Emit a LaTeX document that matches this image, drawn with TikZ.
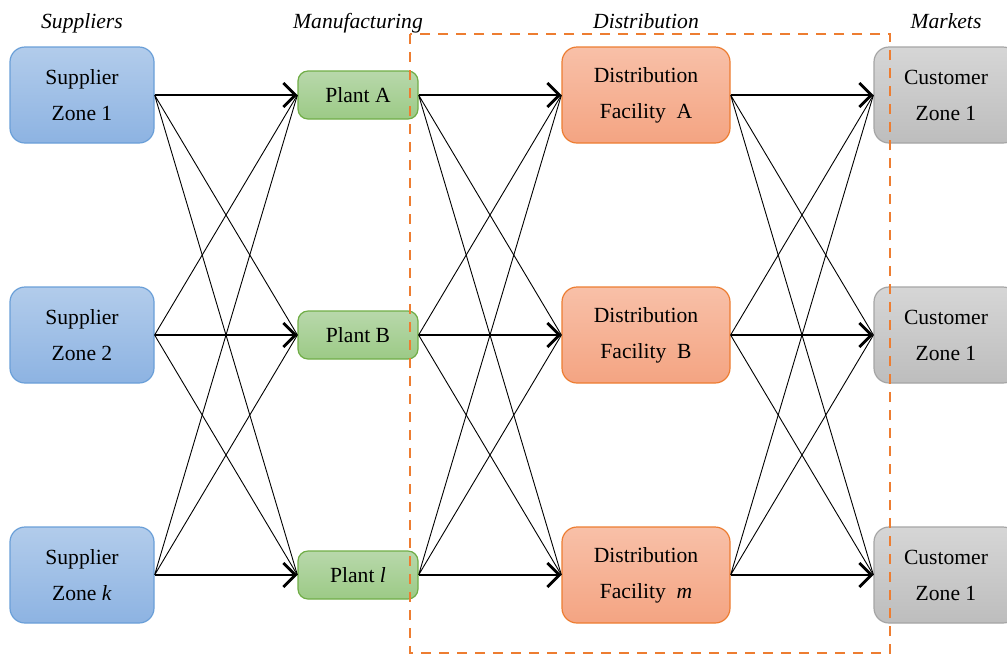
\documentclass[tikz,border=0pt]{standalone}
\usepackage{fontspec}
\setmainfont{Liberation Serif}
\usetikzlibrary{arrows.meta}

\definecolor{supTop}{HTML}{B2CCEB}
\definecolor{supBot}{HTML}{8DB3E2}
\definecolor{supLine}{HTML}{6A9FD8}
\definecolor{plantTop}{HTML}{B8D8AB}
\definecolor{plantBot}{HTML}{9CCA86}
\definecolor{plantLine}{HTML}{70AD47}
\definecolor{distTop}{HTML}{F8C0A8}
\definecolor{distBot}{HTML}{F4A482}
\definecolor{distLine}{HTML}{ED7D31}
\definecolor{custTop}{HTML}{D6D6D6}
\definecolor{custBot}{HTML}{BDBDBD}
\definecolor{custLine}{HTML}{A5A5A5}

\tikzset{
    box/.style={rounded corners=7.5pt, align=center, inner sep=0pt, line width=0.6pt,
        font=\fontsize{10.8}{18}\selectfont},
    supbox/.style={box, minimum width=72pt, minimum height=48pt,
        draw=supLine, top color=supTop, bottom color=supBot},
    plantbox/.style={box, rounded corners=5pt, minimum width=60pt, minimum height=24pt,
        draw=plantLine, top color=plantTop, bottom color=plantBot},
    distbox/.style={box, minimum width=84pt, minimum height=48pt,
        draw=distLine, top color=distTop, bottom color=distBot},
    custbox/.style={box, minimum width=72pt, minimum height=48pt,
        draw=custLine, top color=custTop, bottom color=custBot},
    stage/.style={anchor=base, font=\fontsize{10.8}{13}\selectfont\itshape},
    main/.style={line width=1.4pt, -{Straight Barb[length=6pt, width=12pt, line width=1.4pt]}},
    cross/.style={line width=0.45pt}
}

\begin{document}
\begin{tikzpicture}[x=0.5pt, y=-0.5pt]
        \clip ( 0, 0 ) rectangle ( 1007, 655 );

        % stage titles
        \node[stage] (tsup) at ( 82, 28 ) {Suppliers};
        \node[stage] (tman) at ( 358, 28 ) {Manufacturing};
        \node[stage] (tdis) at ( 646, 28 ) {Distribution};
        \node[stage] (tmar) at ( 946, 28 ) {Markets};

        % suppliers
        \node[supbox] (s1) at ( 82, 95 ) {Supplier\\Zone 1};
        \node[supbox] (s2) at ( 82, 335 ) {Supplier\\Zone 2};
        \node[supbox] (s3) at ( 82, 575 ) {Supplier\\Zone \textit{k}};

        % plants
        \node[plantbox] (p1) at ( 358, 95 ) {Plant A};
        \node[plantbox] (p2) at ( 358, 335 ) {Plant B};
        \node[plantbox] (p3) at ( 358, 575 ) {Plant \textit{l}};

        % distribution
        \node[distbox] (d1) at ( 646, 95 ) {Distribution\\Facility\ \ A};
        \node[distbox] (d2) at ( 646, 335 ) {Distribution\\Facility\ \ B};
        \node[distbox] (d3) at ( 646, 575 ) {Distribution\\Facility\ \ \textit{m}};

        % markets
        \node[custbox] (c1) at ( 946, 95 ) {Customer\\Zone 1};
        \node[custbox] (c2) at ( 946, 335 ) {Customer\\Zone 1};
        \node[custbox] (c3) at ( 946, 575 ) {Customer\\Zone 1};

        % suppliers - plants
        \draw[main] (s1.east) -- (p1.west);
        \draw[main] (s2.east) -- (p2.west);
        \draw[main] (s3.east) -- (p3.west);
        \draw[cross] (s1.east) -- (p2.west) (s1.east) -- (p3.west);
        \draw[cross] (s2.east) -- (p1.west) (s2.east) -- (p3.west);
        \draw[cross] (s3.east) -- (p1.west) (s3.east) -- (p2.west);

        % plants - distribution
        \draw[main] (p1.east) -- (d1.west);
        \draw[main] (p2.east) -- (d2.west);
        \draw[main] (p3.east) -- (d3.west);
        \draw[cross] (p1.east) -- (d2.west) (p1.east) -- (d3.west);
        \draw[cross] (p2.east) -- (d1.west) (p2.east) -- (d3.west);
        \draw[cross] (p3.east) -- (d1.west) (p3.east) -- (d2.west);

        % distribution - markets
        \draw[main] (d1.east) -- (c1.west);
        \draw[main] (d2.east) -- (c2.west);
        \draw[main] (d3.east) -- (c3.west);
        \draw[cross] (d1.east) -- (c2.west) (d1.east) -- (c3.west);
        \draw[cross] (d2.east) -- (c1.west) (d2.east) -- (c3.west);
        \draw[cross] (d3.east) -- (c1.west) (d3.east) -- (c2.west);

        % distribution area
        \draw[distLine, line width=1.1pt, dash pattern=on 5pt off 4pt]
            ( 410, 34 ) rectangle ( 890, 653 );
\end{tikzpicture}
\end{document}
